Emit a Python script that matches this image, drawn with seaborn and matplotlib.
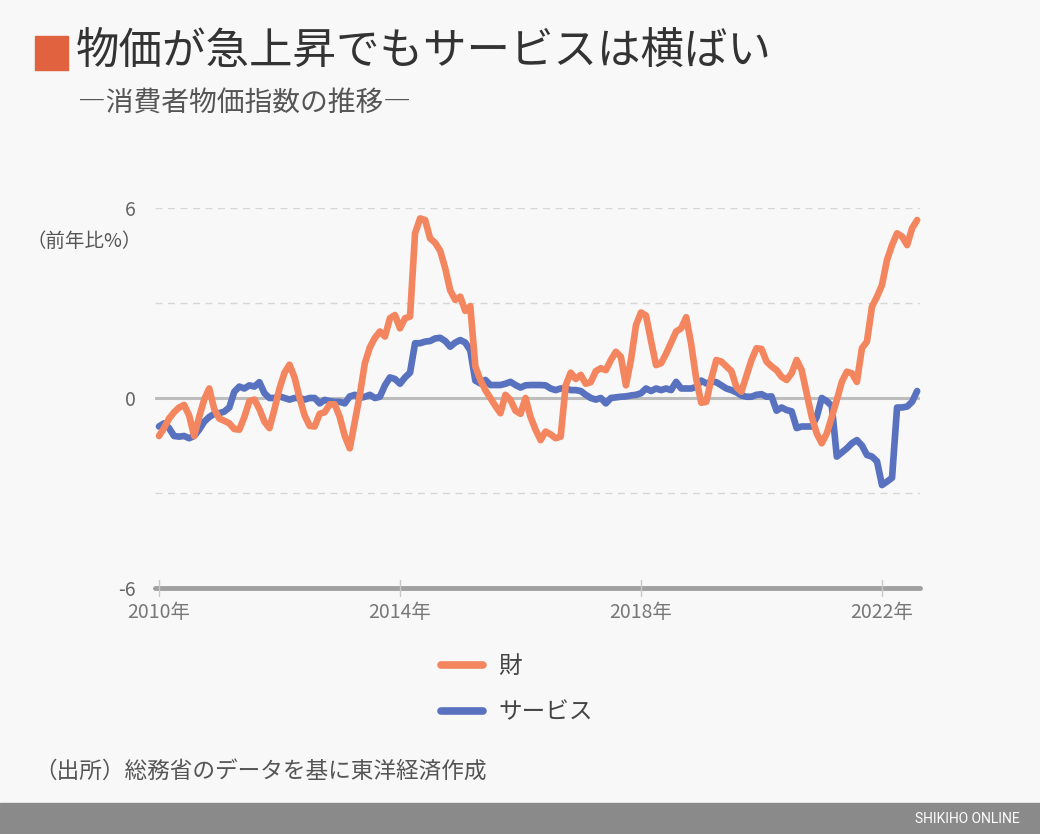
import numpy as np
import pandas as pd
import seaborn as sns
import matplotlib.pyplot as plt
from matplotlib.patches import Rectangle

# 消費者物価指数 前年比(%) 2010年1月〜2022年8月
goods = [
    -1.2, -0.95, -0.65, -0.45, -0.3, -0.22, -0.55, -1.2, -0.6, -0.05, 0.3, -0.35,
    -0.65, -0.72, -0.8, -0.98, -1.0, -0.6, -0.1, -0.05, -0.35, -0.75, -0.95, -0.35,
    0.3, 0.8, 1.05, 0.65, 0.0, -0.55, -0.88, -0.9, -0.5, -0.45, -0.2, -0.2,
    -0.6, -1.2, -1.59, -0.75, 0.1, 1.1, 1.6, 1.9, 2.1, 1.94, 2.52, 2.62,
    2.2, 2.52, 2.57, 5.2, 5.67, 5.62, 5.04, 4.9, 4.65, 4.1, 3.4, 3.1,
    3.2, 2.75, 2.9, 1.0, 0.57, 0.25, 0.0, -0.25, -0.48, 0.1, -0.06, -0.4,
    -0.5, 0.0, -0.6, -1.0, -1.33, -1.06, -1.15, -1.27, -1.22, 0.4, 0.8, 0.6,
    0.73, 0.45, 0.5, 0.85, 0.94, 0.88, 1.2, 1.46, 1.3, 0.4, 1.2, 2.3,
    2.7, 2.6, 1.8, 1.04, 1.1, 1.4, 1.75, 2.1, 2.2, 2.55, 1.7, 0.6,
    -0.15, -0.12, 0.6, 1.2, 1.15, 1.0, 0.85, 0.35, 0.2, 0.7, 1.2, 1.57,
    1.55, 1.15, 1.0, 0.88, 0.67, 0.57, 0.78, 1.2, 0.88, 0.15, -0.59, -1.12,
    -1.43, -1.12, -0.6, -0.06, 0.51, 0.83, 0.78, 0.51, 1.57, 1.78, 2.88, 3.2,
    3.57, 4.36, 4.83, 5.2, 5.1, 4.83, 5.36, 5.62,
]
services = [
    -0.9, -0.8, -0.95, -1.2, -1.22, -1.2, -1.27, -1.2, -1.0, -0.75, -0.6, -0.5,
    -0.48, -0.43, -0.3, 0.2, 0.36, 0.3, 0.4, 0.36, 0.5, 0.15, 0.0, 0.0,
    0.05, 0.0, -0.05, 0.0, 0.0, -0.05, 0.0, 0.0, -0.17, -0.06, -0.1, -0.12,
    -0.12, -0.17, 0.05, 0.1, 0.0, 0.04, 0.1, 0.0, 0.04, 0.4, 0.65, 0.6,
    0.45, 0.65, 0.8, 1.73, 1.73, 1.78, 1.8, 1.88, 1.9, 1.8, 1.62, 1.75,
    1.83, 1.75, 1.5, 0.55, 0.46, 0.57, 0.41, 0.41, 0.41, 0.45, 0.51, 0.41,
    0.33, 0.4, 0.41, 0.41, 0.41, 0.4, 0.3, 0.25, 0.3, 0.3, 0.25, 0.25,
    0.22, 0.1, 0.0, -0.05, 0.0, -0.17, 0.0, 0.02, 0.04, 0.05, 0.08, 0.1,
    0.15, 0.3, 0.22, 0.3, 0.25, 0.3, 0.25, 0.51, 0.3, 0.3, 0.3, 0.35,
    0.55, 0.46, 0.52, 0.5, 0.4, 0.3, 0.25, 0.18, 0.08, 0.04, 0.04, 0.1,
    0.12, 0.04, 0.05, -0.4, -0.3, -0.38, -0.42, -0.95, -0.9, -0.9, -0.9, -0.6,
    0.0, -0.1, -0.25, -1.85, -1.72, -1.59, -1.43, -1.33, -1.5, -1.8, -1.85, -2.0,
    -2.75, -2.64, -2.52, -0.3, -0.3, -0.27, -0.12, 0.22,
]
months = 2010 + np.arange(len(goods)) / 12
tick_years = [2010, 2014, 2018, 2022]
tick_labels = ['2010年', '2014年', '2018年', '2022年']

df = pd.DataFrame({
    'year': np.concatenate([months, months]),
    'value': services + goods,
    'series': ['サービス'] * len(services) + ['財'] * len(goods),
})

bg = '#f8f8f8'
sns.set_theme(style='white')
plt.rcParams['font.family'] = ['Noto Sans CJK JP', 'DejaVu Sans']

W, H = 1040, 834
fig = plt.figure(figsize=(W / 100, H / 100), dpi=100, facecolor=bg)
ax = fig.add_axes([155 / W, 1 - 588 / H, (920 - 155) / W, 380 / H])
ax.set_facecolor(bg)

palette = {'財': '#f4865f', 'サービス': '#5872c0'}
sns.lineplot(data=df, x='year', y='value', hue='series', palette=palette,
             linewidth=4.8, ax=ax, clip_on=False, solid_capstyle='round')

ax.set_xlim(2010 + (155 - 159) / 60.25, 2010 + (920 - 159) / 60.25)
ax.set_ylim(-6, 6)
for s in ax.spines.values():
    s.set_visible(False)

for yv in [6, 3, -3]:
    ax.axhline(yv, color='#d6d6d6', lw=1, ls=(0, (5, 4)), zorder=0)
ax.axhline(0, color='#bdbdbd', lw=2.2, zorder=1)
ax.axhline(-6, color='#a0a0a0', lw=3.5, zorder=1, clip_on=False)

ax.set_yticks([-6, 0, 6])
ax.set_yticklabels(['-6', '0', '6'])
ax.set_xticks(tick_years)
ax.set_xticklabels(tick_labels)
ax.tick_params(axis='y', length=0, labelsize=14, labelcolor='#666666', pad=14)
ax.tick_params(axis='x', length=0, labelsize=14, labelcolor='#777777', pad=10)
for t in tick_years:
    ax.plot([t, t], [-6.25, -5.75], color='#c8c8c8', lw=1, clip_on=False)
ax.set_xlabel('')
ax.set_ylabel('')

handles, labels = ax.get_legend_handles_labels()
ax.get_legend().remove()
order = [labels.index('財'), labels.index('サービス')]
leg = fig.legend([handles[i] for i in order], [labels[i] for i in order],
                 loc='center', bbox_to_anchor=(517 / W, 1 - 690 / H),
                 frameon=False, fontsize=17, handlelength=1.75,
                 labelspacing=0.98, handletextpad=0.65)
for h in leg.get_lines():
    h.set_linewidth(5.5)
    h.set_solid_capstyle('round')
for t in leg.get_texts():
    t.set_color('#444444')

# title
fig.patches.append(Rectangle((35 / W, 1 - 70 / H), 33 / W, 34 / H,
                             transform=fig.transFigure, color='#e0623f'))
fig.text(76 / W, 1 - 53 / H, '物価が急上昇でもサービスは横ばい', fontsize=31.3,
         color='#333333', va='center', ha='left')
fig.text(78 / W, 1 - 103 / H, '―消費者物価指数の推移―', fontsize=20,
         color='#555555', va='center', ha='left')
fig.text(26 / W, 1 - 241 / H, '（前年比%）', fontsize=14,
         color='#555555', va='center', ha='left')
fig.text(34 / W, 1 - 772 / H, '（出所）総務省のデータを基に東洋経済作成', fontsize=16.3,
         color='#555555', va='center', ha='left')

# footer band
fig.patches.append(Rectangle((0, 0), 1, 31 / H, transform=fig.transFigure,
                             color='#8a8a8a'))
fig.text(1020 / W, 15 / H, 'SHIKIHO ONLINE', fontsize=10, color='white',
         va='center', ha='right', family=['Roboto', 'DejaVu Sans'])

fig.savefig('out.png', dpi=100, facecolor=bg)
